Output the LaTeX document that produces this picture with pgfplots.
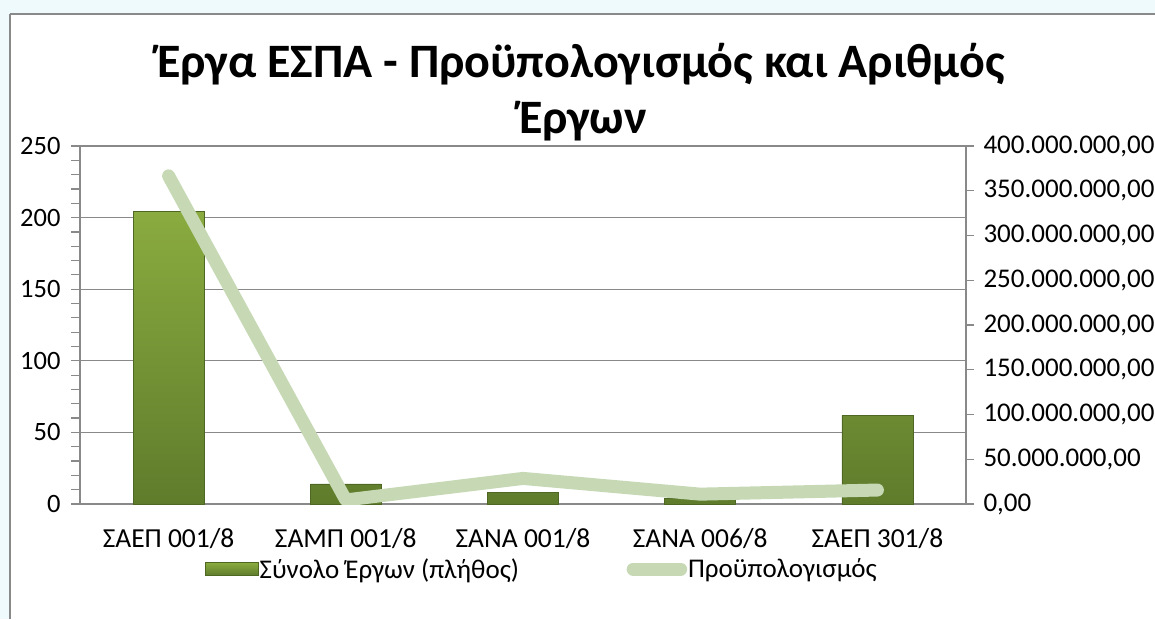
\documentclass[border=0pt]{standalone}
\usepackage{fontspec}
\setmainfont{Carlito}
\usepackage{pgfplots}
\pgfplotsset{compat=1.18}
\definecolor{bartop}{HTML}{8AAB3F}
\definecolor{barbot}{HTML}{5F7C2C}
\definecolor{baredge}{HTML}{4E6823}
\definecolor{linec}{HTML}{C6D9B4}
\definecolor{axgray}{HTML}{898989}
\definecolor{bgcyan}{HTML}{EEFAFC}
\begin{document}
\begin{tikzpicture}
\useasboundingbox (0pt,0pt) rectangle (1155pt,619pt);
\fill[white] (0pt,0pt) rectangle (1155pt,619pt);
\fill[bgcyan] (0pt,605pt) rectangle (1155pt,619pt);
\fill[bgcyan] (0pt,0pt) rectangle (10pt,619pt);
% frame
\draw[axgray, line width=2pt] (10pt,605pt) -- (1155pt,605pt);
\draw[axgray, line width=2pt] (10pt,0pt) -- (10pt,605pt);
% title
\node[font=\fontsize{48}{56}\selectfont\bfseries, anchor=base] at (581pt,541pt) {Έργα ΕΣΠΑ - Προϋπολογισμός και Αριθμός};
\node[font=\fontsize{48}{56}\selectfont\bfseries, anchor=base] at (583pt,485pt) {Έργων};

\begin{axis}[
  at={(168.6pt,115pt)}, anchor=origin,
  scale only axis, width=886pt, height=358pt,
  xmin=-0.5, xmax=4.5, ymin=0, ymax=250,
  axis y line*=left, axis x line*=bottom,
  axis line style={axgray, line width=1.5pt},
  ytick={0,50,...,250}, minor y tick num=4,
  ymajorgrids, grid style={axgray, line width=1.2pt},
  tick align=outside,
  major tick length=9pt, minor tick length=9pt,
  tick style={axgray, line width=1.2pt},
  /pgf/number format/assume math mode=true,
  yticklabel style={font=\fontsize{26.5}{30}\selectfont, xshift=-7pt},
  xtick={0,1,2,3,4},
  xticklabels={ΣΑΕΠ 001/8, ΣΑΜΠ 001/8, ΣΑΝΑ 001/8, ΣΑΝΑ 006/8, ΣΑΕΠ 301/8},
  x tick style={draw=none},
  xticklabel style={font=\fontsize{27.5}{32}\selectfont, yshift=-12pt},
  extra x ticks={0.5,1.5,2.5,3.5},
  extra x tick labels={},
  extra x tick style={grid=none, major tick length=10pt, tick style={axgray, line width=1.2pt, draw=axgray}},
  legend style={at={(0.141,-0.1816)}, anchor=west, draw=none, fill=none,
    font=\fontsize{27}{32}\selectfont, inner sep=0pt, outer sep=0pt,
    nodes={inner sep=1pt}},
  legend image code/.code={\draw[baredge, top color=bartop, bottom color=barbot] (0pt,-6.5pt) rectangle (53pt,6.5pt);},
]
\addplot[ybar, bar width=71pt, bar shift=0pt, draw=baredge, line width=0.8pt,
  top color=bartop, bottom color=barbot]
  coordinates {(0,204) (1,14) (2,8) (3,4) (4,62)};
\addlegendentry{Σύνολο Έργων (πλήθος)}
\end{axis}

\begin{axis}[
  at={(168.6pt,115pt)}, anchor=origin,
  scale only axis, width=886pt, height=358pt,
  xmin=-0.5, xmax=4.5, ymin=0, ymax=400,
  axis y line*=right, axis x line=none,
  axis line style={axgray, line width=1.5pt},
  ytick={0,50,...,400},
  yticklabels={{0,00},{50.000.000,00},{100.000.000,00},{150.000.000,00},{200.000.000,00},{250.000.000,00},{300.000.000,00},{350.000.000,00},{400.000.000,00}},
  tick align=outside, major tick length=8pt,
  tick style={axgray, line width=1.2pt},
  yticklabel style={font=\fontsize{27}{32}\selectfont, xshift=6pt},
  legend style={at={(0.617,-0.1816)}, anchor=west, draw=none, fill=none,
    font=\fontsize{27}{32}\selectfont, inner sep=0pt, outer sep=0pt,
    nodes={inner sep=1pt}},
  legend image code/.code={\draw[linec, line width=13pt, line cap=round] (6.5pt,0pt) -- (54pt,0pt);},
]
\addplot[linec, line width=13pt, line cap=round, line join=round, mark=none]
  coordinates {(0,366.6) (1,4.5) (2,28.6) (3,11) (4,15.6)};
\addlegendentry{Προϋπολογισμός}
\end{axis}
\end{tikzpicture}
\end{document}
